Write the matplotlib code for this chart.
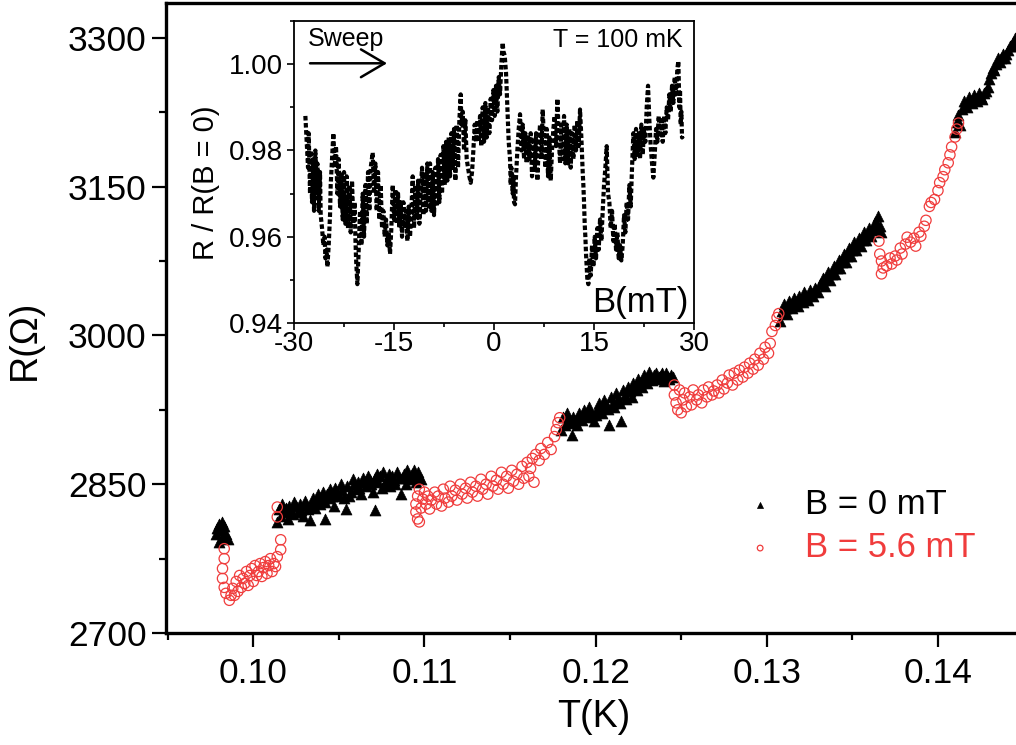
import numpy as np
import matplotlib.pyplot as plt
from matplotlib.ticker import MultipleLocator

plt.rcParams['font.family'] = ['Liberation Sans', 'DejaVu Sans']
plt.rcParams['axes.unicode_minus'] = False

# R(T) measured at B = 0 mT, (T [K], R [Ohm])
b0_points = [
    (0.0978, 2800), (0.0979, 2806), (0.0980, 2810), (0.0981, 2804), (0.0982, 2797),
    (0.0983, 2808), (0.0984, 2800), (0.0985, 2795), (0.0980, 2792), (0.0982, 2812),
    (0.1014, 2812), (0.1015, 2825), (0.1016, 2818), (0.1017, 2830), (0.1018, 2822),
    (0.1019, 2826), (0.1020, 2815), (0.1021, 2828), (0.1022, 2821), (0.1023, 2820),
    (0.1024, 2832), (0.1025, 2828), (0.1026, 2822), (0.1027, 2830), (0.1028, 2824),
    (0.1029, 2818), (0.1030, 2833), (0.1031, 2829), (0.1032, 2825), (0.1033, 2814),
    (0.1034, 2830), (0.1035, 2836), (0.1036, 2826), (0.1037, 2834), (0.1038, 2840),
    (0.1039, 2830), (0.1040, 2836), (0.1041, 2842), (0.1042, 2832), (0.1042, 2815),
    (0.1043, 2840), (0.1044, 2836), (0.1045, 2845), (0.1046, 2838), (0.1047, 2828),
    (0.1048, 2846), (0.1049, 2842), (0.1050, 2838), (0.1051, 2850), (0.1052, 2844),
    (0.1053, 2836), (0.1054, 2825), (0.1055, 2848), (0.1056, 2838), (0.1057, 2842),
    (0.1058, 2855), (0.1059, 2850), (0.1060, 2845), (0.1061, 2852), (0.1062, 2846),
    (0.1063, 2840), (0.1064, 2856), (0.1065, 2852), (0.1066, 2848), (0.1067, 2858),
    (0.1068, 2854), (0.1069, 2850), (0.1070, 2842), (0.1071, 2824), (0.1071, 2856),
    (0.1072, 2860), (0.1073, 2852), (0.1074, 2858), (0.1075, 2846), (0.1076, 2862),
    (0.1077, 2850), (0.1078, 2855), (0.1079, 2860), (0.1080, 2848), (0.1081, 2858),
    (0.1082, 2854), (0.1083, 2850), (0.1084, 2862), (0.1085, 2856), (0.1086, 2840),
    (0.1087, 2856), (0.1088, 2860), (0.1089, 2850), (0.1090, 2864), (0.1091, 2858),
    (0.1092, 2855), (0.1093, 2860), (0.1094, 2864), (0.1095, 2852), (0.1096, 2862),
    (0.1097, 2858), (0.1098, 2855),
    (0.1180, 2905), (0.1181, 2918), (0.1182, 2910), (0.1183, 2922), (0.1184, 2916),
    (0.1185, 2912), (0.1186, 2900), (0.1187, 2918), (0.1188, 2914), (0.1189, 2910),
    (0.1190, 2922), (0.1191, 2918), (0.1192, 2915), (0.1193, 2925), (0.1194, 2922),
    (0.1195, 2918), (0.1196, 2928), (0.1197, 2924), (0.1198, 2920), (0.1199, 2914),
    (0.1200, 2920), (0.1201, 2926), (0.1202, 2932), (0.1203, 2928), (0.1204, 2922),
    (0.1205, 2935), (0.1206, 2930), (0.1207, 2926), (0.1208, 2910), (0.1209, 2938),
    (0.1210, 2932), (0.1211, 2928), (0.1212, 2942), (0.1213, 2936), (0.1214, 2932),
    (0.1215, 2914), (0.1216, 2945), (0.1217, 2940), (0.1218, 2936), (0.1219, 2948),
    (0.1220, 2944), (0.1221, 2938), (0.1222, 2952), (0.1223, 2948), (0.1224, 2945),
    (0.1225, 2956), (0.1226, 2952), (0.1227, 2948), (0.1228, 2960), (0.1229, 2956),
    (0.1230, 2952), (0.1231, 2963), (0.1232, 2958), (0.1233, 2955), (0.1234, 2960),
    (0.1235, 2962), (0.1236, 2956), (0.1237, 2958), (0.1238, 2960), (0.1239, 2962),
    (0.1240, 2954), (0.1241, 2962), (0.1242, 2958), (0.1243, 2956), (0.1244, 2960),
    (0.1245, 2958),
    (0.1308, 3015), (0.1309, 3025), (0.1310, 3032), (0.1311, 3028), (0.1312, 3022),
    (0.1313, 3035), (0.1314, 3030), (0.1315, 3028), (0.1316, 3038), (0.1317, 3034),
    (0.1318, 3030), (0.1319, 3040), (0.1320, 3036), (0.1321, 3034), (0.1322, 3044),
    (0.1323, 3040), (0.1324, 3036), (0.1325, 3046), (0.1326, 3042), (0.1327, 3040),
    (0.1328, 3048), (0.1329, 3046), (0.1330, 3044), (0.1331, 3052), (0.1332, 3054),
    (0.1333, 3058), (0.1334, 3050), (0.1335, 3058), (0.1336, 3064), (0.1337, 3056),
    (0.1338, 3062), (0.1339, 3070), (0.1340, 3062), (0.1341, 3068), (0.1342, 3076),
    (0.1343, 3068), (0.1344, 3074), (0.1345, 3082), (0.1346, 3074), (0.1347, 3080),
    (0.1348, 3088), (0.1349, 3080), (0.1350, 3086), (0.1351, 3094), (0.1352, 3086),
    (0.1353, 3092), (0.1354, 3098), (0.1355, 3090), (0.1356, 3096), (0.1357, 3104),
    (0.1358, 3096), (0.1359, 3102), (0.1360, 3108), (0.1361, 3100), (0.1362, 3108),
    (0.1363, 3114), (0.1364, 3106), (0.1364, 3114), (0.1365, 3120), (0.1366, 3110),
    (0.1367, 3104),
    (0.1410, 3205), (0.1411, 3215), (0.1412, 3222), (0.1413, 3212), (0.1414, 3228),
    (0.1415, 3236), (0.1416, 3232), (0.1417, 3230), (0.1418, 3240), (0.1419, 3236),
    (0.1420, 3234), (0.1421, 3242), (0.1422, 3238), (0.1423, 3236), (0.1424, 3244),
    (0.1425, 3240), (0.1426, 3238), (0.1427, 3244), (0.1428, 3246), (0.1429, 3250),
    (0.1430, 3258), (0.1431, 3264), (0.1432, 3270), (0.1433, 3268), (0.1434, 3274),
    (0.1435, 3280), (0.1436, 3276), (0.1437, 3280), (0.1438, 3284), (0.1439, 3280),
    (0.1440, 3284), (0.1441, 3288), (0.1442, 3292), (0.1443, 3292), (0.1444, 3296),
    (0.1445, 3300), (0.1446, 3302),
]

# R(T) measured at B = 5.6 mT
b56_points = [
    (0.0983, 2785), (0.0983, 2775), (0.0982, 2765), (0.0982, 2755), (0.0983, 2746),
    (0.0984, 2740), (0.0986, 2733), (0.0987, 2738), (0.0988, 2745), (0.0989, 2738),
    (0.0990, 2752), (0.0991, 2742), (0.0992, 2758), (0.0993, 2746), (0.0994, 2755),
    (0.0995, 2750), (0.0996, 2762), (0.0997, 2748), (0.0998, 2758), (0.0999, 2765),
    (0.1000, 2752), (0.1001, 2768), (0.1002, 2758), (0.1003, 2762), (0.1004, 2770),
    (0.1005, 2757), (0.1006, 2766), (0.1007, 2772), (0.1008, 2760), (0.1009, 2768),
    (0.1010, 2775), (0.1011, 2762), (0.1012, 2770), (0.1013, 2767), (0.1014, 2777),
    (0.1016, 2784), (0.1016, 2794), (0.1014, 2817), (0.1014, 2827),
    (0.1097, 2845), (0.1096, 2838), (0.1095, 2830), (0.1095, 2822), (0.1096, 2815),
    (0.1097, 2812), (0.1098, 2826), (0.1099, 2835), (0.1100, 2842), (0.1101, 2830),
    (0.1102, 2838), (0.1103, 2825), (0.1104, 2834), (0.1106, 2842), (0.1107, 2830),
    (0.1108, 2838), (0.1110, 2828), (0.1111, 2845), (0.1112, 2836), (0.1114, 2832),
    (0.1115, 2848), (0.1116, 2838), (0.1118, 2844), (0.1119, 2834), (0.1121, 2850),
    (0.1122, 2840), (0.1124, 2846), (0.1125, 2836), (0.1127, 2852), (0.1128, 2842),
    (0.1130, 2848), (0.1131, 2838), (0.1133, 2855), (0.1134, 2845), (0.1136, 2850),
    (0.1137, 2840), (0.1139, 2858), (0.1140, 2848), (0.1142, 2854), (0.1143, 2845),
    (0.1145, 2862), (0.1146, 2850), (0.1148, 2858), (0.1149, 2846), (0.1151, 2864),
    (0.1152, 2853), (0.1154, 2860), (0.1155, 2850), (0.1157, 2868), (0.1158, 2856),
    (0.1160, 2872), (0.1161, 2858), (0.1162, 2866), (0.1163, 2876), (0.1164, 2852),
    (0.1165, 2880), (0.1167, 2874), (0.1168, 2886), (0.1170, 2880), (0.1172, 2892),
    (0.1174, 2885), (0.1176, 2898), (0.1177, 2905), (0.1178, 2912), (0.1179, 2917),
    (0.1246, 2950), (0.1246, 2940), (0.1247, 2932), (0.1248, 2925), (0.1249, 2945),
    (0.1250, 2922), (0.1251, 2935), (0.1252, 2942), (0.1253, 2928), (0.1255, 2938),
    (0.1256, 2930), (0.1257, 2945), (0.1259, 2935), (0.1260, 2940), (0.1262, 2932),
    (0.1263, 2945), (0.1265, 2938), (0.1266, 2948), (0.1268, 2940), (0.1269, 2944),
    (0.1271, 2950), (0.1272, 2942), (0.1274, 2955), (0.1275, 2946), (0.1277, 2952),
    (0.1278, 2960), (0.1280, 2950), (0.1281, 2962), (0.1283, 2955), (0.1284, 2965),
    (0.1286, 2958), (0.1287, 2968), (0.1289, 2962), (0.1290, 2972), (0.1292, 2966),
    (0.1293, 2976), (0.1295, 2970), (0.1296, 2982), (0.1298, 2976), (0.1299, 2988),
    (0.1301, 2982), (0.1302, 2992), (0.1303, 3004), (0.1305, 3010), (0.1306, 3018),
    (0.1307, 3022),
    (0.13655, 3095), (0.1366, 3082), (0.1367, 3075), (0.1368, 3068), (0.1367, 3062),
    (0.1370, 3070), (0.1372, 3078), (0.1373, 3072), (0.1375, 3080), (0.1376, 3076),
    (0.1378, 3088), (0.1379, 3082), (0.1381, 3092), (0.1382, 3099), (0.1384, 3094),
    (0.1386, 3098), (0.1387, 3090), (0.1389, 3104), (0.1390, 3100), (0.1392, 3110),
    (0.1393, 3116), (0.1395, 3130), (0.1396, 3134), (0.1398, 3137), (0.1400, 3146),
    (0.1401, 3154), (0.1403, 3160), (0.1404, 3167), (0.1406, 3174), (0.1407, 3182),
    (0.1408, 3190), (0.1410, 3200), (0.1411, 3208), (0.1412, 3214),
]

# magnetoresistance sweep at T = 100 mK, (B [mT], R/R(B=0))
sweep_points = [
    (-28.3, 0.988), (-28.1, 0.982), (-27.9, 0.976), (-27.8, 0.984), (-27.6, 0.970),
    (-27.5, 0.980), (-27.3, 0.968), (-27.1, 0.978), (-27.0, 0.966), (-26.8, 0.980),
    (-26.6, 0.970), (-26.5, 0.977), (-26.3, 0.966), (-26.1, 0.975), (-26.0, 0.965),
    (-25.8, 0.962), (-25.6, 0.958), (-25.4, 0.960), (-25.3, 0.955), (-25.1, 0.957),
    (-25.0, 0.953), (-24.8, 0.958), (-24.6, 0.965), (-24.5, 0.972), (-24.3, 0.978),
    (-24.1, 0.984), (-23.9, 0.976), (-23.7, 0.981), (-23.5, 0.970), (-23.3, 0.978),
    (-23.1, 0.967), (-22.9, 0.975), (-22.7, 0.964), (-22.5, 0.975), (-22.3, 0.963),
    (-22.1, 0.974), (-21.9, 0.962), (-21.7, 0.972), (-21.5, 0.961), (-21.3, 0.973),
    (-21.1, 0.963), (-20.9, 0.968), (-20.8, 0.960), (-20.7, 0.955), (-20.5, 0.949),
    (-20.3, 0.957), (-20.1, 0.966), (-19.9, 0.958), (-19.7, 0.970), (-19.5, 0.960),
    (-19.3, 0.972), (-19.1, 0.963), (-18.9, 0.975), (-18.7, 0.966), (-18.5, 0.976),
    (-18.2, 0.9795), (-18.0, 0.970), (-17.8, 0.977), (-17.6, 0.966), (-17.4, 0.975),
    (-17.2, 0.964), (-17.0, 0.972), (-16.8, 0.962), (-16.6, 0.966), (-16.4, 0.960),
    (-16.2, 0.964), (-16.0, 0.958), (-15.8, 0.961), (-15.6, 0.956), (-15.4, 0.962),
    (-15.2, 0.972), (-15.0, 0.964), (-14.8, 0.971), (-14.6, 0.963), (-14.4, 0.970),
    (-14.2, 0.962), (-14.0, 0.968), (-13.8, 0.960), (-13.6, 0.968), (-13.4, 0.962),
    (-13.2, 0.966), (-13.0, 0.959), (-12.8, 0.967), (-12.6, 0.960), (-12.4, 0.966),
    (-12.2, 0.974), (-12.0, 0.962), (-11.8, 0.972), (-11.6, 0.964), (-11.4, 0.973),
    (-11.2, 0.963), (-11.0, 0.970), (-10.8, 0.976), (-10.6, 0.965), (-10.4, 0.975),
    (-10.2, 0.966), (-10.0, 0.977), (-9.8, 0.967), (-9.6, 0.977), (-9.4, 0.966),
    (-9.2, 0.975), (-9.0, 0.965), (-8.8, 0.976), (-8.6, 0.967), (-8.4, 0.978),
    (-8.2, 0.968), (-8.0, 0.979), (-7.8, 0.970), (-7.6, 0.981), (-7.4, 0.972),
    (-7.2, 0.982), (-7.0, 0.973), (-6.8, 0.983), (-6.6, 0.974), (-6.4, 0.984),
    (-6.2, 0.976), (-6.0, 0.985), (-5.8, 0.973), (-5.6, 0.986), (-5.4, 0.976),
    (-5.2, 0.987), (-5.0, 0.993), (-4.9, 0.986), (-4.7, 0.989), (-4.5, 0.980),
    (-4.3, 0.987), (-4.1, 0.978), (-3.9, 0.976), (-3.7, 0.974), (-3.5, 0.9725),
    (-3.3, 0.975), (-3.1, 0.980), (-2.9, 0.986), (-2.7, 0.982), (-2.5, 0.987),
    (-2.3, 0.982), (-2.1, 0.988), (-1.9, 0.981), (-1.7, 0.990), (-1.5, 0.982),
    (-1.3, 0.991), (-1.1, 0.983), (-0.9, 0.990), (-0.7, 0.984), (-0.5, 0.992),
    (-0.3, 0.987), (-0.1, 0.994), (0.1, 0.988), (0.3, 0.995), (0.5, 0.989),
    (0.7, 0.997), (0.9, 0.993), (1.1, 1.000), (1.3, 1.005), (1.4, 1.003),
    (1.6, 1.002), (1.8, 0.998), (1.9, 0.994), (2.0, 0.990), (2.1, 0.986),
    (2.2, 0.982), (2.4, 0.978), (2.5, 0.972), (2.6, 0.976), (2.8, 0.970),
    (2.9, 0.974), (3.0, 0.968), (3.15, 0.9675), (3.3, 0.974), (3.5, 0.980),
    (3.7, 0.985), (3.9, 0.9884), (4.1, 0.980), (4.3, 0.986), (4.5, 0.978),
    (4.7, 0.984), (4.9, 0.977), (5.1, 0.983), (5.3, 0.978), (5.5, 0.984),
    (5.7, 0.974), (5.9, 0.983), (6.1, 0.975), (6.3, 0.984), (6.5, 0.973),
    (6.7, 0.981), (6.9, 0.986), (7.1, 0.978), (7.3, 0.9895), (7.5, 0.982),
    (7.7, 0.976), (7.9, 0.985), (8.1, 0.974), (8.3, 0.983), (8.5, 0.973),
    (8.7, 0.980), (8.9, 0.985), (9.1, 0.988), (9.3, 0.981), (9.5, 0.992),
    (9.7, 0.984), (9.9, 0.977), (10.1, 0.986), (10.3, 0.978), (10.5, 0.988),
    (10.7, 0.977), (10.9, 0.986), (11.1, 0.977), (11.3, 0.985), (11.5, 0.976),
    (11.7, 0.984), (11.9, 0.978), (12.1, 0.986), (12.3, 0.980), (12.5, 0.987),
    (12.7, 0.981), (12.9, 0.9895), (13.1, 0.983), (13.2, 0.979), (13.3, 0.975),
    (13.4, 0.972), (13.5, 0.968), (13.6, 0.963), (13.7, 0.960), (13.8, 0.956),
    (13.9, 0.953), (14.0, 0.950), (14.15, 0.949), (14.3, 0.955), (14.5, 0.951),
    (14.7, 0.958), (14.9, 0.953), (15.1, 0.960), (15.3, 0.955), (15.5, 0.962),
    (15.7, 0.957), (15.9, 0.964), (16.1, 0.959), (16.3, 0.966), (16.5, 0.972),
    (16.7, 0.976), (16.9, 0.981), (17.1, 0.970), (17.3, 0.968), (17.5, 0.962),
    (17.7, 0.966), (17.9, 0.959), (18.1, 0.963), (18.3, 0.957), (18.5, 0.961),
    (18.7, 0.955), (18.9, 0.958), (19.1, 0.9545), (19.3, 0.958), (19.5, 0.965),
    (19.7, 0.961), (19.9, 0.968), (20.1, 0.964), (20.3, 0.972), (20.5, 0.967),
    (20.7, 0.976), (20.9, 0.984), (21.1, 0.978), (21.3, 0.985), (21.5, 0.979),
    (21.7, 0.984), (21.9, 0.978), (22.1, 0.986), (22.3, 0.979), (22.5, 0.985),
    (22.7, 0.982), (22.9, 0.990), (23.1, 0.995), (23.3, 0.987), (23.5, 0.981),
    (23.7, 0.977), (23.9, 0.9737), (24.1, 0.979), (24.3, 0.985), (24.5, 0.982),
    (24.7, 0.988), (24.9, 0.983), (25.1, 0.987), (25.3, 0.982), (25.5, 0.988),
    (25.7, 0.984), (25.9, 0.990), (26.1, 0.987), (26.3, 0.993), (26.5, 0.989),
    (26.7, 0.995), (26.9, 0.991), (27.1, 0.997), (27.3, 0.993), (27.5, 0.999),
    (27.65, 1.0007), (27.8, 0.990), (27.9, 0.994), (28.0, 0.986), (28.1, 0.989),
    (28.2, 0.983), (28.35, 0.9833),
]

t_zero, r_zero = np.array(b0_points).T
t_field, r_field = np.array(b56_points).T
b_sweep, r_ratio = np.array(sweep_points).T

red = '#f03c3c'

fig = plt.figure(figsize=(10.16, 7.45), dpi=100)

# main panel: R vs T
ax = fig.add_axes([0.1634, 0.1503, 0.8366, 0.8456])
ax.scatter(t_zero, r_zero, marker='^', s=62, color='black', linewidths=0.5,
           zorder=2, label='B = 0 mT')
ax.scatter(t_field, r_field, marker='o', s=55, facecolors='none',
           edgecolors=red, linewidths=0.9, zorder=3, label='B = 5.6 mT')

ax.set_xlim(0.0949, 0.14456)
ax.set_ylim(2700, 3335)
ax.set_xticks([0.10, 0.11, 0.12, 0.13, 0.14])
ax.set_xticklabels(['0.10', '0.11', '0.12', '0.13', '0.14'])
ax.xaxis.set_minor_locator(MultipleLocator(0.005))
ax.set_yticks([2700, 2850, 3000, 3150, 3300])
ax.yaxis.set_minor_locator(MultipleLocator(75))
ax.tick_params(which='major', direction='out', length=10, width=1.6,
               labelsize=25.5, pad=4)
ax.tick_params(which='minor', direction='out', length=5, width=1.6)
ax.tick_params(axis='x', which='major', pad=7)
ax.spines['right'].set_visible(False)
for side in ['left', 'bottom', 'top']:
    ax.spines[side].set_linewidth(2.4)

ax.set_xlabel('T(K)', fontsize=27)
ax.set_ylabel('R(Ω)', fontsize=27)
ax.xaxis.set_label_coords(0.5035, -0.104)
ax.yaxis.set_label_coords(-0.145, 0.465)

leg = ax.legend(loc='center left', bbox_to_anchor=(0.714, 0.294),
                bbox_transform=fig.transFigure, frameon=False, fontsize=25,
                markerscale=0.55, handlelength=1.0, handletextpad=0.8,
                borderpad=0, labelspacing=0.3, scatterpoints=1)
leg.get_texts()[1].set_color(red)

# inset: field sweep at 100 mK
axin = fig.add_axes([0.2894, 0.5664, 0.3937, 0.4054])
axin.plot(b_sweep, r_ratio, color='black', lw=3.0, linestyle=(0, (1.1, 0.6)),
          dash_capstyle='butt')
axin.set_xlim(-30, 30)
axin.set_ylim(0.94, 1.01)
axin.set_xticks([-30, -15, 0, 15, 30])
axin.xaxis.set_minor_locator(MultipleLocator(7.5))
axin.set_yticks([0.94, 0.96, 0.98, 1.00])
axin.set_yticklabels(['0.94', '0.96', '0.98', '1.00'])
axin.yaxis.set_minor_locator(MultipleLocator(0.01))
axin.tick_params(which='major', direction='out', length=5, width=1.2,
                 labelsize=20, pad=3)
axin.tick_params(which='minor', direction='out', length=3, width=1.2)
axin.tick_params(axis='x', which='major', pad=1)
for side in axin.spines.values():
    side.set_linewidth(1.3)
axin.set_ylabel('R / R(B = 0)', fontsize=21)
axin.yaxis.set_label_coords(-0.185, 0.464)

axin.text(0.985, 0.036, 'B(mT)', transform=axin.transAxes, fontsize=25,
          ha='right', va='baseline')
axin.text(0.9725, 0.914, 'T = 100 mK', transform=axin.transAxes, fontsize=18,
          ha='right', va='baseline')
axin.text(0.035, 0.917, 'Sweep', transform=axin.transAxes, fontsize=18,
          ha='left', va='baseline')
axin.annotate('', xy=(-16.05, 1.0002), xytext=(-27.6, 1.0002),
              arrowprops=dict(arrowstyle='->,head_length=1.7,head_width=1.0',
                              lw=1.8, color='black', shrinkA=0, shrinkB=0))

fig.savefig('out.png', dpi=100)
